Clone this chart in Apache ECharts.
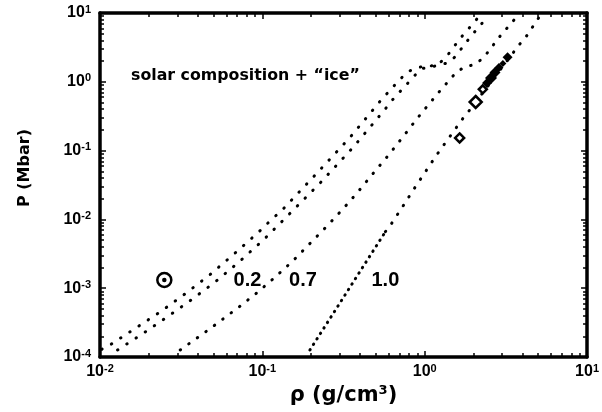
<!DOCTYPE html>
<html>
<head>
<meta charset="utf-8">
<script src="https://cdn.jsdelivr.net/npm/echarts@6/dist/echarts.min.js"></script>
<style>
  html, body { margin: 0; padding: 0; background: #fff; }
  #chart { width: 602px; height: 412px; }
</style>
</head>
<body>
<div id="chart"></div>
<script>
// Pressure–density relations for solar composition + "ice" envelopes.
// Density rho in g/cm^3, pressure P in Mbar.
const curveA_rho = [0.01024, 0.01151, 0.01651, 0.02345, 0.03331, 0.04732, 0.06657, 0.09454, 0.1062, 0.1356, 0.2165, 0.3455, 0.5391, 0.6778, 0.7660, 0.8535, 0.9587, 1.088, 1.217, 1.362, 1.530, 1.722, 1.934, 2.174];
const curveA_P   = [1.294e-4, 1.494e-4, 2.614e-4, 4.509e-4, 8.234e-4, 1.555e-3, 3.110e-3, 6.494e-3, 8.490e-3, 0.01450, 0.04679, 0.1540, 0.5438, 0.9833, 1.329, 1.550, 1.658, 1.697, 1.814, 2.316, 3.347, 4.789, 6.538, 9.046];

const curveB_rho = [0.01282, 0.01821, 0.02573, 0.03639, 0.05146, 0.07211, 0.1018, 0.1426, 0.2290, 0.3639, 0.5649, 0.6319, 0.7956, 0.8936, 0.9819, 1.119, 1.229, 1.375, 1.545, 1.736, 1.953, 2.195, 2.446];
const curveB_P   = [1.264e-4, 2.160e-4, 3.776e-4, 6.738e-4, 1.243e-3, 2.428e-3, 5.069e-3, 0.01120, 0.03460, 0.1128, 0.3892, 0.5438, 0.9833, 1.329, 1.571, 1.658, 1.755, 1.876, 2.316, 3.347, 4.789, 6.538, 9.046];

const curveC_rho = [0.03118, 0.04799, 0.07311, 0.09064, 0.1114, 0.1375, 0.1524, 0.2562, 0.3177, 0.3920, 0.4819, 0.5925, 0.7311, 0.8936, 1.000, 1.240, 1.545, 1.705, 1.829, 1.962, 2.113, 2.332, 2.624, 2.948, 3.313, 3.727];
const curveC_P   = [1.264e-4, 2.614e-4, 5.512e-4, 8.234e-4, 1.243e-3, 1.947e-3, 2.428e-3, 8.490e-3, 0.01464, 0.02587, 0.04679, 0.08347, 0.1561, 0.2879, 0.3985, 0.7348, 1.329, 1.571, 1.658, 1.755, 1.895, 2.316, 3.347, 4.789, 6.538, 9.046];

// the 1.0 curve: finely sampled at low density, coarser above
const curveD1_rho = [0.1963, 0.5727];
const curveD1_P   = [1.264e-4, 6.625e-3];
const curveD2_rho = [0.5727, 0.6205, 0.7243, 0.8449, 1.184, 1.427, 1.722, 1.908, 3.812, 4.288, 4.705, 5.169];
const curveD2_P   = [6.625e-3, 8.490e-3, 0.01479, 0.02613, 0.08630, 0.1592, 0.2948, 0.3985, 3.426, 4.789, 6.693, 9.353];

// planetary interior points
const openPts_rho = [1.641, 2.061, 2.280];
const openPts_P   = [0.1525, 0.5085, 0.778];
const filledPts_rho = [2.422, 2.562, 2.710, 2.867, 3.031, 3.239];
const filledPts_P   = [0.9608, 1.136, 1.365, 1.614, 1.845, 2.270];

// solar symbol and curve labels
const sun_rho = [0.0249];
const sun_P   = [1.316e-3];
const curveLabels = ['0.2', '0.7', '1.0'];
const curveLabel_rho = [0.0810, 0.1778, 0.5727];
const curveLabel_P   = [1.316e-3, 1.316e-3, 1.316e-3];

const rhoDecades = [0.01, 0.1, 1, 10];
const pDecades = [1e-4, 1e-3, 1e-2, 1e-1, 1, 10];
const noteText = 'solar composition + \u201cice\u201d';
const xTitle = '\u03c1 (g/cm\u00b3)';
const yTitle = 'P (Mbar)';

const FONT = '"Liberation Sans", Arial, sans-serif';
const WIDE = '"DejaVu Sans", sans-serif';

function zip(a, b) { return a.map((v, i) => [v, b[i]]); }
// exponents of the 2..9 sub-decade tick marks
function minorExps(decades) {
  const out = [];
  for (let i = 0; i < decades.length - 1; i++) {
    for (let k = 2; k <= 9; k++) out.push(Math.log10(k * decades[i]));
  }
  return out;
}
function powLabel(v) {
  const e = Math.round(Math.log10(v));
  return '{b|10}{s|' + (e < 0 ? '-' + (-e) : e) + '}';
}
const labelRich = {
  b: { fontFamily: FONT, fontWeight: 'bold', fontSize: 16, color: '#000', lineHeight: 18 },
  s: { fontFamily: FONT, fontWeight: 'bold', fontSize: 11, color: '#000', verticalAlign: 'top', lineHeight: 11 }
};
const frameLine = { show: true, onZero: false, lineStyle: { color: '#000', width: 3.5 } };
const majorTick = { show: true, inside: true, length: 6, lineStyle: { color: '#000', width: 1.5 } };

function logX(pos, withLabels) {
  return {
    type: 'log', logBase: 10, min: 0.01, max: 10, interval: 1, position: pos,
    axisLine: frameLine, splitLine: { show: false }, axisTick: majorTick,
    axisLabel: { show: withLabels, formatter: powLabel, rich: labelRich, margin: 6 },
    name: withLabels ? xTitle : '',
    nameLocation: 'middle', nameGap: 28,
    nameTextStyle: { fontFamily: WIDE, fontWeight: 'bold', fontSize: 21, color: '#000' }
  };
}
function logY(pos, withLabels) {
  return {
    type: 'log', logBase: 10, min: 1e-4, max: 10, interval: 1, position: pos,
    axisLine: frameLine, splitLine: { show: false }, axisTick: majorTick,
    axisLabel: { show: withLabels, formatter: powLabel, rich: labelRich, margin: 9 }
  };
}
// companion axes in exponent space carrying the sub-decade ticks
function minorAxis(pos, lo, hi, decades) {
  return {
    type: 'value', min: lo, max: hi, position: pos,
    axisLine: { show: false, onZero: false }, splitLine: { show: false }, axisLabel: { show: false },
    axisTick: { show: true, inside: true, length: 4, lineStyle: { color: '#000', width: 1.5 },
                customValues: minorExps(decades) }
  };
}

const dotted = (gap) => ({ color: '#000', width: 3, type: [0.5, gap], cap: 'round' });
function curve(name, rho, p, gap) {
  return { name, type: 'line', data: zip(rho, p), showSymbol: false, symbol: 'none',
           lineStyle: dotted(gap), silent: true, z: 3 };
}

const chart = echarts.init(document.getElementById('chart'), null, { renderer: 'canvas' });
chart.setOption({
  animation: false,
  backgroundColor: '#fff',
  grid: { left: 100, right: 10, top: 13, bottom: 55 },
  xAxis: [logX('bottom', true), logX('top', false),
          minorAxis('bottom', -2, 1, rhoDecades), minorAxis('top', -2, 1, rhoDecades)],
  yAxis: [logY('left', true), logY('right', false),
          minorAxis('left', -4, 1, pDecades), minorAxis('right', -4, 1, pDecades)],
  graphic: [
    { type: 'text', left: 131, top: 68, style: { text: noteText, font: 'bold 15.8px ' + WIDE, fill: '#000' } },
    { type: 'text', x: 25, y: 168, rotation: Math.PI / 2,
      style: { text: yTitle, font: 'bold 16px ' + WIDE, fill: '#000', align: 'center', verticalAlign: 'middle' } }
  ],
  series: [
    curve('A', curveA_rho, curveA_P, 10.5),
    curve('B', curveB_rho, curveB_P, 10.5),
    curve('C', curveC_rho, curveC_P, 10),
    curve('D1', curveD1_rho, curveD1_P, 6),
    curve('D2', curveD2_rho, curveD2_P, 10),
    { name: 'filled', type: 'scatter', data: zip(filledPts_rho, filledPts_P), symbol: 'diamond',
      symbolSize: (v, p) => [10, 12, 11, 9, 7, 10][p.dataIndex],
      itemStyle: { color: '#000', opacity: 1 }, z: 5, silent: true },
    { name: 'open', type: 'scatter', data: zip(openPts_rho, openPts_P), symbol: 'diamond',
      symbolSize: (v, p) => [9, 12, 8][p.dataIndex],
      itemStyle: { color: '#fff', borderColor: '#000', borderWidth: 2.5, opacity: 1 }, z: 6, silent: true },
    { name: 'sun', type: 'scatter', data: zip(sun_rho, sun_P), symbol: 'circle', symbolSize: 14,
      itemStyle: { color: '#fff', borderColor: '#000', borderWidth: 2.5, opacity: 1 }, z: 5, silent: true },
    { name: 'sunCore', type: 'scatter', data: zip(sun_rho, sun_P), symbol: 'circle', symbolSize: 4.5,
      itemStyle: { color: '#000', opacity: 1 }, z: 6, silent: true },
    { name: 'labels', type: 'scatter', symbolSize: 0, silent: true, z: 7,
      itemStyle: { opacity: 1 },
      data: curveLabels.map((t, i) => ({ name: t, value: [curveLabel_rho[i], curveLabel_P[i]] })),
      label: { show: true, position: 'inside', formatter: (p) => p.name,
               fontFamily: FONT, fontWeight: 'bold', fontSize: 20, color: '#000' } }
  ]
});
</script>
</body>
</html>
